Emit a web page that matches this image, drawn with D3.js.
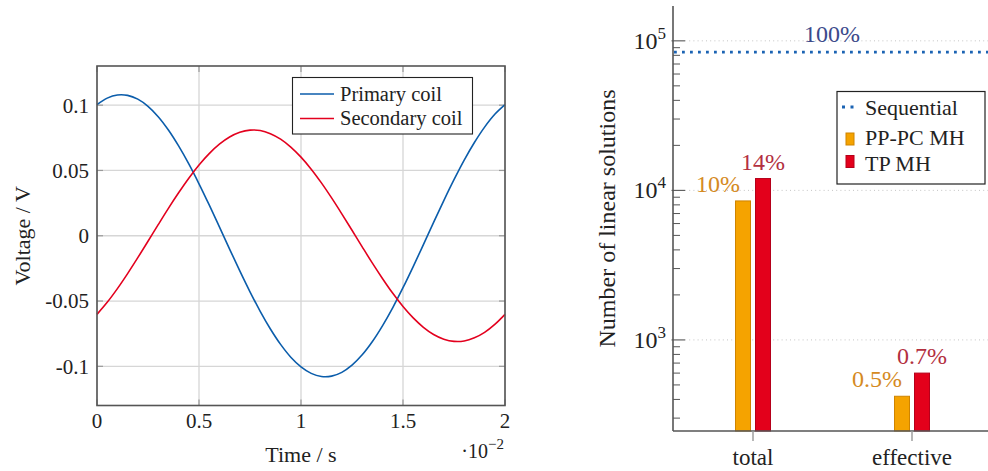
<!DOCTYPE html>
<html>
<head>
<meta charset="utf-8">
<script src="https://cdn.jsdelivr.net/npm/d3@7"></script>
<style>
  html, body { margin: 0; padding: 0; background: #fff; font-family: 'Liberation Serif', 'DejaVu Serif', serif; }
  svg { display: block; }
</style>
</head>
<body>
<svg id="fig" width="988" height="471" font-family="Liberation Serif, DejaVu Serif, serif"></svg>
<script>
// ---- Left panel: coil voltages (time in units of 1e-2 s) ----
const time = [0, 0.05, 0.1, 0.15, 0.2, 0.25, 0.3, 0.35, 0.4, 0.45, 0.5, 0.55, 0.6, 0.65, 0.7, 0.75, 0.8, 0.85, 0.9, 0.95,
  1, 1.05, 1.1, 1.15, 1.2, 1.25, 1.3, 1.35, 1.4, 1.45, 1.5, 1.55, 1.6, 1.65, 1.7, 1.75, 1.8, 1.85, 1.9, 1.95, 2];
const primaryCoil = [0.1004, 0.1054, 0.1078, 0.1075, 0.1046, 0.0991, 0.0912, 0.0810, 0.0688, 0.0550, 0.0398,
  0.0236, 0.0068, -0.0102, -0.0269, -0.0429, -0.0579, -0.0714, -0.0832, -0.0930, -0.1004, -0.1054, -0.1078,
  -0.1075, -0.1046, -0.0991, -0.0912, -0.0810, -0.0688, -0.0550, -0.0398, -0.0236, -0.0068, 0.0102, 0.0269,
  0.0429, 0.0579, 0.0714, 0.0832, 0.0930, 0.1004];
const secondaryCoil = [-0.0602, -0.0510, -0.0405, -0.0290, -0.0168, -0.0042, 0.0085, 0.0210, 0.0329, 0.0441,
  0.0542, 0.0629, 0.0701, 0.0756, 0.0792, 0.0809, 0.0806, 0.0782, 0.0740, 0.0679, 0.0602, 0.0510, 0.0405,
  0.0290, 0.0168, 0.0042, -0.0085, -0.0210, -0.0329, -0.0441, -0.0542, -0.0629, -0.0701, -0.0756, -0.0792,
  -0.0809, -0.0806, -0.0782, -0.0740, -0.0679, -0.0602];
const voltageTicks = [-0.1, -0.05, 0, 0.05, 0.1];
const timeTicks = [0, 0.5, 1, 1.5, 2];
const coilNames = ["Primary coil", "Secondary coil"];

// ---- Right panel: number of linear solutions ----
const categories = ["total", "effective"];
const sequentialCount = 84000;
const ppPcMH = [8500, 420];
const tpMH = [12000, 600];
const decadeTicks = [1000, 10000, 100000];
const methodNames = ["Sequential", "PP-PC MH", "TP MH"];

const FONT = "'Liberation Serif', 'DejaVu Serif', serif";
const svg = d3.select("#fig");
const BLUE = "#0b5dab", RED = "#e3001e";
const AXIS = "#555", GRID = "#d6d6d6";

// ================= Left panel =================
const L = { x0: 97, x1: 505, y0: 66, y1: 405.5 };
const xL = d3.scaleLinear().domain([0, 2]).range([L.x0, L.x1]);
const yL = d3.scaleLinear().domain([-0.13, 0.13]).range([L.y1, L.y0]);
const left = svg.append("g");

// grid
left.append("g").selectAll("line.gx").data(timeTicks).join("line")
  .attr("x1", d => xL(d)).attr("x2", d => xL(d)).attr("y1", L.y0).attr("y2", L.y1)
  .attr("stroke", GRID).attr("stroke-width", 1.3);
left.append("g").selectAll("line.gy").data(voltageTicks).join("line")
  .attr("x1", L.x0).attr("x2", L.x1).attr("y1", d => yL(d)).attr("y2", d => yL(d))
  .attr("stroke", GRID).attr("stroke-width", 1.3);

// tick marks drawn inward on all four sides
const tk = left.append("g").attr("stroke", "#9a9a9a").attr("stroke-width", 1.2);
timeTicks.forEach(d => {
  tk.append("line").attr("x1", xL(d)).attr("x2", xL(d)).attr("y1", L.y1).attr("y2", L.y1 - 6);
  tk.append("line").attr("x1", xL(d)).attr("x2", xL(d)).attr("y1", L.y0).attr("y2", L.y0 + 6);
});
voltageTicks.forEach(d => {
  tk.append("line").attr("x1", L.x0).attr("x2", L.x0 + 6).attr("y1", yL(d)).attr("y2", yL(d));
  tk.append("line").attr("x1", L.x1).attr("x2", L.x1 - 6).attr("y1", yL(d)).attr("y2", yL(d));
});

// curves
const lineGen = d3.line().x((d, i) => xL(time[i])).y(d => yL(d)).curve(d3.curveCatmullRom);
left.append("path").datum(primaryCoil).attr("d", lineGen)
  .attr("fill", "none").attr("stroke", BLUE).attr("stroke-width", 1.6);
left.append("path").datum(secondaryCoil).attr("d", lineGen)
  .attr("fill", "none").attr("stroke", RED).attr("stroke-width", 1.6);

// frame
left.append("rect").attr("x", L.x0).attr("y", L.y0)
  .attr("width", L.x1 - L.x0).attr("height", L.y1 - L.y0)
  .attr("fill", "none").attr("stroke", AXIS).attr("stroke-width", 1.6);

// tick labels
left.append("g").selectAll("text").data(voltageTicks).join("text")
  .attr("x", 89).attr("y", d => yL(d)).attr("dy", "0.35em")
  .attr("text-anchor", "end").attr("font-size", 21).attr("fill", "#222")
  .text(d => String(d));
left.append("g").selectAll("text").data(timeTicks).join("text")
  .attr("x", d => xL(d)).attr("y", 428)
  .attr("text-anchor", "middle").attr("font-size", 21).attr("fill", "#222")
  .text(d => String(d));

// axis titles
left.append("text").attr("x", (L.x0 + L.x1) / 2).attr("y", 462)
  .attr("text-anchor", "middle").attr("font-size", 22).attr("fill", "#222")
  .text("Time / s");
left.append("text").attr("transform", `translate(30,${(L.y0 + L.y1) / 2}) rotate(-90)`)
  .attr("text-anchor", "middle").attr("font-size", 22).attr("fill", "#222")
  .text("Voltage / V");
const scaleLbl = left.append("text").attr("x", 504).attr("y", 458)
  .attr("text-anchor", "end").attr("font-size", 20).attr("fill", "#222");
scaleLbl.append("tspan").text("·10");
scaleLbl.append("tspan").attr("dy", -9).attr("font-size", 15).text("−2");

// legend
const lg = left.append("g");
lg.append("rect").attr("x", 292.5).attr("y", 77.5).attr("width", 180).attr("height", 56.5)
  .attr("fill", "#fff").attr("stroke", "#222").attr("stroke-width", 1.1);
[[coilNames[0], BLUE, 94], [coilNames[1], RED, 118.5]].forEach(([name, col, yy]) => {
  lg.append("line").attr("x1", 300).attr("x2", 334).attr("y1", yy).attr("y2", yy)
    .attr("stroke", col).attr("stroke-width", 1.6);
  lg.append("text").attr("x", 340).attr("y", yy).attr("dy", "0.33em")
    .attr("font-size", 20.5).attr("fill", "#222").text(name);
});

// ================= Right panel =================
const R = { x0: 673, x1: 988, y0: 6, y1: 431 };
const yR = d3.scaleLog().domain([246, 171000]).range([R.y1, R.y0]);
const xR = d3.scalePoint().domain(categories).range([753, 912]);
const right = svg.append("g");
const ORANGE = "#f5a300", ORANGE_EDGE = "#cf8400", ORANGE_TXT = "#d58a22";
const CRIMSON = "#e3001b", CRIMSON_EDGE = "#b5001a", CRIMSON_TXT = "#b3303f";
const SEQ_BLUE = "#1b63b3", SEQ_TXT = "#3c4a8c";

// dotted major grid
right.append("g").selectAll("line").data(decadeTicks).join("line")
  .attr("x1", R.x0 + 12).attr("x2", R.x1).attr("y1", d => yR(d)).attr("y2", d => yR(d))
  .attr("stroke", "#c4c4c4").attr("stroke-width", 1).attr("stroke-dasharray", "1,3.2");

// sequential reference line
right.append("line").attr("x1", R.x0 + 1).attr("x2", R.x1)
  .attr("y1", yR(sequentialCount)).attr("y2", yR(sequentialCount))
  .attr("stroke", SEQ_BLUE).attr("stroke-width", 2.8).attr("stroke-dasharray", "2.8,5.2");
right.append("text").attr("x", 832).attr("y", yR(sequentialCount) - 10)
  .attr("text-anchor", "middle").attr("font-size", 24).attr("fill", SEQ_TXT).text("100%");

// bars
const pct = v => {
  const p = v / sequentialCount * 100;
  return (p >= 1 ? Math.round(p) : p.toFixed(1)) + "%";
};
const series = [
  { vals: ppPcMH, fill: ORANGE, edge: ORANGE_EDGE, txt: ORANGE_TXT, off: -10, lblDx: -25 },
  { vals: tpMH, fill: CRIMSON, edge: CRIMSON_EDGE, txt: CRIMSON_TXT, off: 10, lblDx: 0 }
];
const BW = 15;
series.forEach(s => {
  const g = right.append("g");
  g.selectAll("rect").data(s.vals).join("rect")
    .attr("x", (d, i) => xR(categories[i]) + s.off - BW / 2)
    .attr("y", d => yR(d))
    .attr("width", BW).attr("height", d => R.y1 - yR(d))
    .attr("fill", s.fill).attr("stroke", s.edge).attr("stroke-width", 1);
  g.selectAll("text").data(s.vals).join("text")
    .attr("x", (d, i) => xR(categories[i]) + s.off + s.lblDx)
    .attr("y", d => yR(d) - 9)
    .attr("text-anchor", "middle").attr("font-size", 24).attr("fill", s.txt)
    .text(d => pct(d));
});

// axes (left and bottom only)
right.append("line").attr("x1", R.x0).attr("x2", R.x0).attr("y1", R.y0).attr("y2", R.y1)
  .attr("stroke", AXIS).attr("stroke-width", 1.6);
right.append("line").attr("x1", R.x0).attr("x2", R.x1).attr("y1", R.y1).attr("y2", R.y1)
  .attr("stroke", AXIS).attr("stroke-width", 1.6);

// y ticks: majors and minors
const minor = [];
[100, 1000, 10000, 100000].forEach(dec => {
  for (let k = 2; k <= 9; k++) {
    const v = k * dec;
    if (v >= yR.domain()[0] && v <= yR.domain()[1]) minor.push(v);
  }
});
right.append("g").selectAll("line").data(minor).join("line")
  .attr("x1", R.x0).attr("x2", R.x0 + 7).attr("y1", d => yR(d)).attr("y2", d => yR(d))
  .attr("stroke", AXIS).attr("stroke-width", 1);
right.append("g").selectAll("line").data(decadeTicks).join("line")
  .attr("x1", R.x0 - 1.5).attr("x2", R.x0 + 12).attr("y1", d => yR(d)).attr("y2", d => yR(d))
  .attr("stroke", AXIS).attr("stroke-width", 1.1);
const yl = right.append("g").selectAll("text").data(decadeTicks).join("text")
  .attr("x", 666).attr("y", d => yR(d) + 8)
  .attr("text-anchor", "end").attr("font-size", 24).attr("fill", "#222");
yl.append("tspan").text("10");
yl.append("tspan").attr("dy", -10).attr("font-size", 17).text(d => Math.round(Math.log10(d)));

// x ticks
right.append("g").selectAll("line").data(categories).join("line")
  .attr("x1", d => xR(d)).attr("x2", d => xR(d)).attr("y1", R.y1).attr("y2", R.y1 + 10)
  .attr("stroke", "#999").attr("stroke-width", 1.4);
right.append("g").selectAll("text").data(categories).join("text")
  .attr("x", d => xR(d)).attr("y", 465)
  .attr("text-anchor", "middle").attr("font-size", 23).attr("fill", "#222")
  .text(d => d);

// y title
right.append("text").attr("transform", `translate(615,${(R.y0 + R.y1) / 2}) rotate(-90)`)
  .attr("text-anchor", "middle").attr("font-size", 24).attr("fill", "#222")
  .text("Number of linear solutions");

// legend
const rl = right.append("g");
rl.append("rect").attr("x", 837).attr("y", 91.5).attr("width", 148).attr("height", 92.5)
  .attr("fill", "#fff").attr("stroke", "#222").attr("stroke-width", 1.2);
rl.append("line").attr("x1", 842).attr("x2", 858).attr("y1", 107).attr("y2", 107)
  .attr("stroke", SEQ_BLUE).attr("stroke-width", 2.8).attr("stroke-dasharray", "3,5.5");
rl.append("rect").attr("x", 846).attr("y", 133).attr("width", 8).attr("height", 12)
  .attr("fill", ORANGE).attr("stroke", ORANGE_EDGE).attr("stroke-width", 1);
rl.append("rect").attr("x", 846).attr("y", 155.5).attr("width", 8).attr("height", 12)
  .attr("fill", CRIMSON).attr("stroke", CRIMSON_EDGE).attr("stroke-width", 1);
[[methodNames[0], 107], [methodNames[1], 137], [methodNames[2], 163]].forEach(([name, yy]) => {
  rl.append("text").attr("x", 865).attr("y", yy).attr("dy", "0.35em")
    .attr("font-size", 22).attr("fill", "#222").text(name);
});

// apply the serif face to every label
svg.selectAll("text").attr("font-family", FONT).style("font-family", FONT);
</script>
</body>
</html>
